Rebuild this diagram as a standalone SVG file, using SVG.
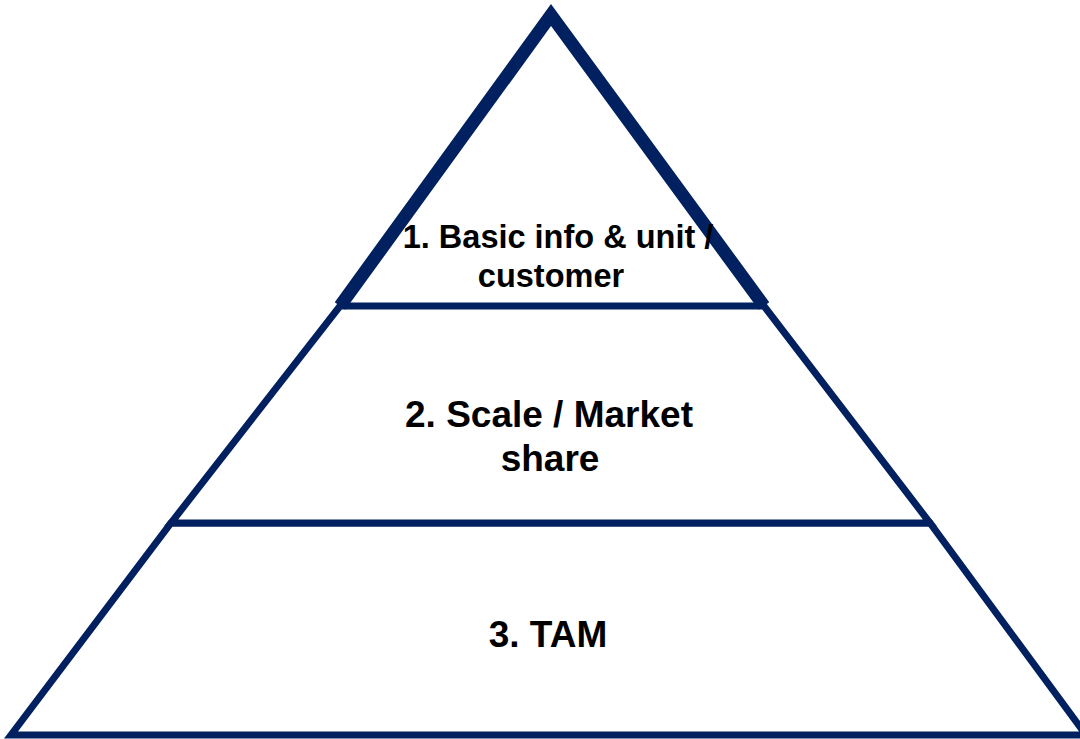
<svg xmlns="http://www.w3.org/2000/svg" width="1080" height="739" viewBox="0 0 1080 739">
  <style>
    .tier { fill: #ffffff; stroke: #002060; stroke-width: 7; stroke-linejoin: miter; }
    .peak { fill: none; stroke: #002060; stroke-width: 13; stroke-linejoin: miter; stroke-linecap: butt; }
    .label { font-family: "Liberation Sans", Arial, sans-serif; font-weight: bold; fill: #000000; text-anchor: middle; }
  </style>
  <rect width="1080" height="739" fill="#ffffff"/>

  <!-- Tier 3: base of the pyramid -->
  <g id="tier-3">
    <polygon class="tier" points="171,523 930,523 1086,735 11,735"/>
    <text class="label" x="548" y="647" font-size="37">3. TAM</text>
  </g>

  <!-- Tier 2: middle band -->
  <g id="tier-2">
    <polygon class="tier" stroke-width="6" points="340,306 764,306 930,523 171,523"/>
    <text class="label" x="549" y="427" font-size="37">2. Scale / Market</text>
    <text class="label" x="550" y="471" font-size="37">share</text>
  </g>

  <!-- Tier 1: apex -->
  <g id="tier-1">
    <path class="peak" d="M340,306 L551,15 L764,306"/>
    <text class="label" x="558" y="248" font-size="32.5">1. Basic info &amp; unit /</text>
    <text class="label" x="551" y="287" font-size="32.5">customer</text>
  </g>
</svg>
